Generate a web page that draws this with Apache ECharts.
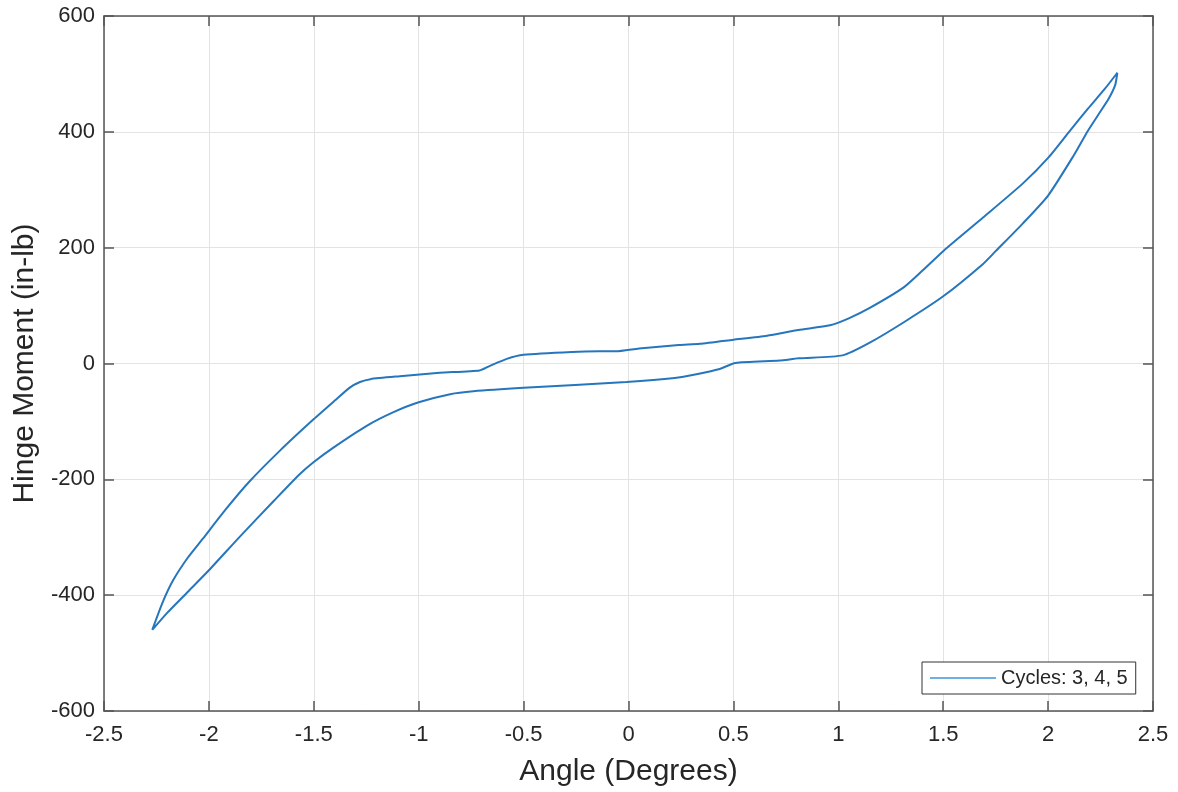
<!DOCTYPE html>
<html>
<head>
<meta charset="utf-8">
<title>Hinge Moment vs Angle</title>
<script src="https://cdn.jsdelivr.net/npm/echarts@6/dist/echarts.min.js"></script>
<style>
  html, body { margin: 0; padding: 0; background: #fff; }
  #chart { width: 1178px; height: 792px; }
</style>
</head>
<body>
<div id="chart"></div>
<script>
// axis ticks
var xTicks = [-2.5, -2, -1.5, -1, -0.5, 0, 0.5, 1, 1.5, 2, 2.5];
var yTicks = [-600, -400, -200, 0, 200, 400, 600];

// hysteresis loop (cycles 3-5 overlap)
// upper branch: left tip -> right tip
var upperAngle  = [-2.27, -2.22, -2.17, -2.10, -2.03, -1.92, -1.81, -1.66, -1.50, -1.40, -1.33, -1.28, -1.23, -1.09, -0.90, -0.71, -0.66, -0.58, -0.50, -0.27, -0.14, -0.06, 0.05, 0.24, 0.34, 0.50, 0.66, 0.81, 0.96, 1.05, 1.15, 1.31, 1.40, 1.50, 1.69, 1.88, 2.00, 2.10, 2.19, 2.27, 2.33];
var upperMoment = [-460, -412, -374, -335, -303, -252, -205, -150, -96, -64, -42, -32, -27, -22, -16, -12, -4, 8, 15, 20, 21, 21, 26, 32, 34, 41, 48, 58, 66, 78, 96, 131, 160, 194, 252, 311, 355, 400, 440, 474, 502];
// lower branch: right tip -> left tip
var lowerAngle  = [2.32, 2.29, 2.24, 2.19, 2.12, 2.00, 1.88, 1.75, 1.69, 1.50, 1.32, 1.15, 1.02, 0.81, 0.72, 0.51, 0.43, 0.33, 0.22, -0.01, -0.50, -0.74, -0.85, -1.00, -1.12, -1.25, -1.41, -1.50, -1.57, -1.69, -1.85, -2.00, -2.10, -2.20, -2.27];
var lowerMoment = [481, 458, 430, 402, 358, 290, 242, 194, 172, 116, 73, 36, 14, 9, 5, 1, -10, -18, -25, -32, -42, -48, -53, -67, -84, -108, -146, -170, -192, -237, -298, -357, -394, -431, -460];

var seriesName = 'Cycles: 3, 4, 5';

var loop = [];
for (var i = 0; i < upperAngle.length; i++) loop.push([upperAngle[i], upperMoment[i]]);
for (var j = 0; j < lowerAngle.length; j++) loop.push([lowerAngle[j], lowerMoment[j]]);

var font = "'Liberation Sans', Arial, Helvetica, sans-serif";
var txt = '#262626';
var axisCol = '#555555';

var myChart = echarts.init(document.getElementById('chart'));
var option = {
    backgroundColor: '#ffffff',
    animation: false,
    grid: { left: 104, right: 25, top: 16, bottom: 80, show: false },
    legend: {
        data: [{ name: seriesName, icon: 'rect', itemStyle: { color: '#6fb0e2' } }],
        left: 922,
        top: 662,
        padding: [6, 8],
        itemWidth: 66,
        itemHeight: 2,
        backgroundColor: '#ffffff',
        borderColor: '#333333',
        borderWidth: 1,
        borderRadius: 0,
        textStyle: { fontFamily: font, fontSize: 20, color: txt, lineHeight: 20 }
    },
    xAxis: [
        {
            type: 'value',
            min: xTicks[0],
            max: xTicks[xTicks.length - 1],
            interval: 0.5,
            name: 'Angle (Degrees)',
            nameLocation: 'middle',
            nameGap: 46,
            nameTextStyle: { fontFamily: font, fontSize: 30, color: txt },
            axisLine: { show: true, onZero: false, lineStyle: { color: axisCol, width: 1.5 } },
            axisTick: { show: true, inside: true, length: 10, lineStyle: { color: axisCol, width: 1.5 } },
            axisLabel: { fontFamily: font, fontSize: 22, color: txt, margin: 13 },
            splitLine: { show: true, lineStyle: { color: '#e3e3e3', width: 1 } }
        },
        {
            type: 'value',
            position: 'top',
            min: xTicks[0],
            max: xTicks[xTicks.length - 1],
            interval: 0.5,
            axisLine: { show: true, onZero: false, lineStyle: { color: axisCol, width: 1.5 } },
            axisTick: { show: true, inside: true, length: 10, lineStyle: { color: axisCol, width: 1.5 } },
            axisLabel: { show: false },
            splitLine: { show: false }
        }
    ],
    yAxis: [
        {
            type: 'value',
            min: yTicks[0],
            max: yTicks[yTicks.length - 1],
            interval: 200,
            name: 'Hinge Moment (in-lb)',
            nameLocation: 'middle',
            nameGap: 62,
            nameTextStyle: { fontFamily: font, fontSize: 30, color: txt },
            axisLine: { show: true, onZero: false, lineStyle: { color: axisCol, width: 1.5 } },
            axisTick: { show: true, inside: true, length: 10, lineStyle: { color: axisCol, width: 1.5 } },
            axisLabel: { fontFamily: font, fontSize: 22, color: txt, margin: 9 },
            splitLine: { show: true, lineStyle: { color: '#e3e3e3', width: 1 } }
        },
        {
            type: 'value',
            position: 'right',
            min: yTicks[0],
            max: yTicks[yTicks.length - 1],
            interval: 200,
            axisLine: { show: true, onZero: false, lineStyle: { color: axisCol, width: 1.5 } },
            axisTick: { show: true, inside: true, length: 10, lineStyle: { color: axisCol, width: 1.5 } },
            axisLabel: { show: false },
            splitLine: { show: false }
        }
    ],
    series: [
        {
            name: seriesName,
            type: 'line',
            xAxisIndex: 0,
            yAxisIndex: 0,
            data: loop,
            showSymbol: false,
            symbol: 'none',
            smooth: 0.2,
            lineStyle: { color: '#2676bd', width: 2 },
            itemStyle: { color: '#2676bd' }
        }
    ]
};
myChart.setOption(option);
</script>
</body>
</html>
